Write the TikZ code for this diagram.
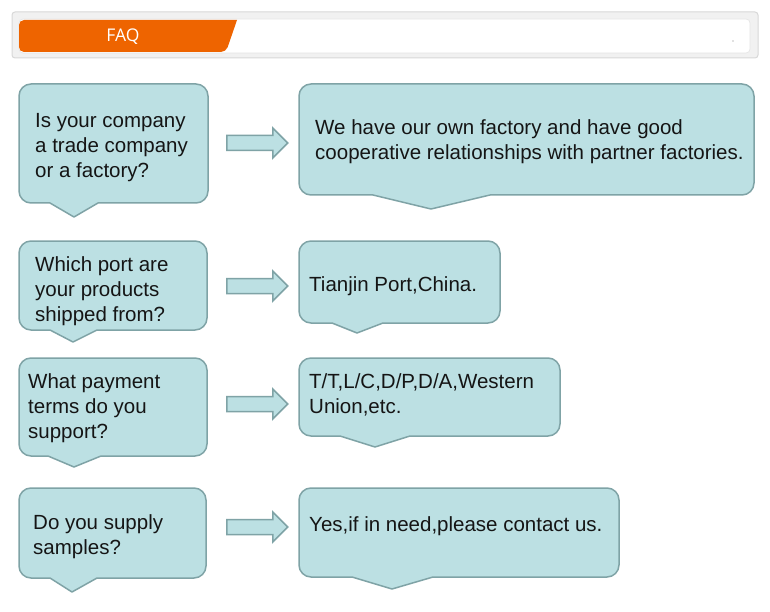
\documentclass[tikz,border=0pt]{standalone}
\usepackage{fontspec}
\setmainfont{Liberation Sans}
\newfontfamily\faqfont{Open Sans}
\usetikzlibrary{shapes.arrows}
\definecolor{bfill}{HTML}{BCE0E3}
\definecolor{bline}{HTML}{7FA3A6}
\definecolor{orng}{HTML}{EE6400}
\definecolor{frame}{HTML}{F1F1F1}
\definecolor{frameline}{HTML}{D8D8D8}
\definecolor{txtc}{HTML}{151515}
\newcommand\br{12}
% name, x1, y1, x2, y2 (page px, y down), pointer left, tip x, tip y, pointer right
\newcommand\faqbubble[9]{%
  \node[boxarea, minimum width={(#4-#2)*1pt}, minimum height={(#5-#3)*1pt}] (#1) at ({(#2+#4)/2},{-(#3+#5)/2}) {};
  \draw[bubble] ({#2+\br},-#3) -- ({#4-\br},-#3) arc[start angle=90,end angle=0,radius=\br]
    -- (#4,{-#5+\br}) arc[start angle=0,end angle=-90,radius=\br]
    -- (#9,-#5) -- (#7,-#8) -- (#6,-#5)
    -- ({#2+\br},-#5) arc[start angle=-90,end angle=-180,radius=\br]
    -- (#2,{-#3-\br}) arc[start angle=180,end angle=90,radius=\br] -- cycle;}
\tikzset{
  x=1pt, y=1pt,
  boxarea/.style={rectangle, inner sep=0pt, outer sep=0pt},
  bubble/.style={draw=bline, fill=bfill, line width=1.5pt, line join=round},
  txt/.style={anchor=base west, inner sep=0pt, align=left, text=txtc,
    font=\fontsize{20.5}{25}\selectfont},
  fat/.style={single arrow, draw=bline, fill=bfill, line width=1.5pt,
    minimum height=61pt, minimum width=30pt, single arrow head extend=7.5pt,
    inner xsep=0pt, inner ysep=6.75pt, anchor=west}
}
\begin{document}
\begin{tikzpicture}
\useasboundingbox (0,0) rectangle (770,-612);
\fill[white] (0,0) rectangle (770,-612);
% header
\draw[fill=frame, draw=frameline, line width=1pt, rounded corners=3pt] (12,-12) rectangle (758,-58);
\draw[fill=white, draw=frameline!70, line width=0.6pt, rounded corners=4pt] (19,-19) rectangle (750,-53);
\fill[orng, rounded corners=5pt] (237,-20) -- (19,-20) -- (19,-52) -- (226,-52) [sharp corners] -- cycle;
\node[text=white, font=\faqfont\fontsize{17.5}{19}\selectfont, inner sep=0pt] (faq) at (123,-37) {FAQ};
\fill[gray] (733,-41) circle (0.7);
% row 1
\faqbubble{q1}{19}{84}{208}{203}{50}{74}{217}{98}
\faqbubble{a1}{299}{84}{754}{195}{373}{431}{209}{490}
\node[txt] (q1t) at (35,-178) {Is your company\\a trade company\\or a factory?};
\node[txt] (a1t) at (315,-160) {We have our own factory and have good\\cooperative relationships with partner factories.};
\node[fat] (r1) at (226,-143) {};
% row 2
\faqbubble{q2}{19}{241}{207}{330}{50}{73}{342}{97}
\faqbubble{a2}{299}{241}{500}{323}{332}{357}{333}{383}
\node[txt] (q2t) at (35,-321) {Which port are\\your products\\shipped from?};
\node[txt] (a2t) at (309,-291) {Tianjin Port,China.};
\node[fat] (r2) at (226,-286) {};
% row 3
\faqbubble{q3}{19}{358}{207}{456}{48}{74}{467}{101}
\faqbubble{a3}{299}{358}{560}{436}{340}{375}{447}{410}
\node[txt] (q3t) at (28,-438) {What payment\\terms do you\\support?};
\node[txt] (a3t) at (309,-413) {T/T,L/C,D/P,D/A,Western\\Union,etc.};
\node[fat] (r3) at (226,-404) {};
% row 4
\faqbubble{q4}{19}{488}{206}{578}{50}{72}{592}{97}
\faqbubble{a4}{299}{488}{619}{577}{352}{392}{589}{433}
\node[txt] (q4t) at (33,-554) {Do you supply\\samples?};
\node[txt] (a4t) at (309,-531) {Yes,if in need,please contact us.};
\node[fat] (r4) at (226,-527) {};
\end{tikzpicture}
\end{document}
